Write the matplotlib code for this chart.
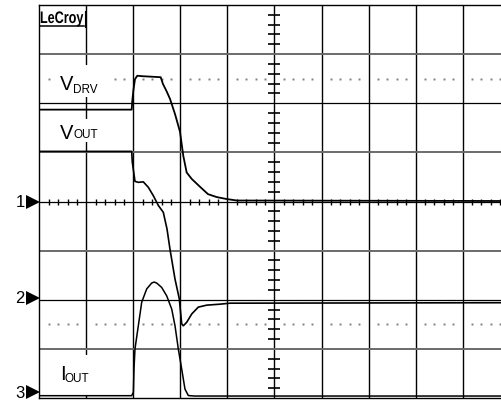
import numpy as np
import matplotlib
matplotlib.use("Agg")
import matplotlib.pyplot as plt
from matplotlib import transforms
from matplotlib.patches import Rectangle, PathPatch
from matplotlib.textpath import TextPath
from matplotlib.font_manager import FontProperties

plt.rcParams['font.family'] = ['Liberation Sans', 'DejaVu Sans']

# scope traces, time and level both in screen divisions (10 x 8 grid)
vdrv_t = [0, 1.964, 1.977, 2.0, 2.034, 2.083, 2.2, 2.4, 2.581, 2.630, 2.708, 2.778,
          2.885, 2.991, 3.061, 3.133, 3.240, 3.416, 3.586, 3.771, 3.984, 4.2, 10]
vdrv_v = [5.87, 5.87, 6.05, 6.26, 6.49, 6.56, 6.55, 6.54, 6.53, 6.39, 6.24, 6.09,
          5.78, 5.42, 4.93, 4.59, 4.46, 4.30, 4.15, 4.09, 4.05, 4.02, 4.01]

vout_t = [0, 1.964, 1.977, 2.034, 2.105, 2.211, 2.317, 2.423, 2.530, 2.636, 2.715,
          2.778, 2.885, 2.976, 3.027, 3.061, 3.133, 3.240, 3.380, 3.559, 3.841, 4.054, 10]
vout_v = [5.02, 5.02, 4.80, 4.41, 4.39, 4.40, 4.29, 4.12, 3.92, 3.78, 3.44,
          3.03, 2.42, 2.02, 1.51, 1.47, 1.54, 1.71, 1.85, 1.89, 1.91, 1.93, 1.94]

iout_t = [0, 1.964, 2.0, 2.013, 2.034, 2.105, 2.177, 2.283, 2.389, 2.44, 2.496, 2.602,
          2.708, 2.815, 2.885, 2.955, 3.027, 3.097, 3.168, 3.3, 10]
iout_v = [0.047, 0.047, 0.12, 0.59, 1.00, 1.47, 1.95, 2.22, 2.34, 2.36, 2.34, 2.25,
          2.08, 1.81, 1.47, 1.00, 0.59, 0.18, 0.05, 0.04, 0.04]

ch_labels = ['1', '2', '3']
ch_levels = [4.0, 2.04, 0.12]

fig = plt.figure(figsize=(5.01, 4.02), dpi=100)
ax = fig.add_axes([39.3 / 501, 3 / 402, 470.4 / 501, 393 / 402])
ax.set_xlim(0, 10)
ax.set_ylim(0, 8)
ax.set_xticks([])
ax.set_yticks([])
for s in ['left', 'top', 'bottom']:
    ax.spines[s].set_color('black')
    ax.spines[s].set_linewidth(1.0)
ax.spines['right'].set_visible(False)

# grid
for x in range(1, 10):
    ax.axvline(x, color='black', lw=1.0, zorder=1)
for y in range(1, 8):
    if y % 2 == 0:
        ax.axhline(y, color='black', lw=0.9, zorder=1)
    else:
        ax.axhline(y, color='#6a6a6a', lw=1.4, zorder=1)

minor = np.arange(0, 10.01, 0.2)
minor_x = minor[np.abs(minor - np.round(minor)) > 1e-6]
ax.plot(minor_x, np.full(len(minor_x), 4.0), ls='none', marker='|', ms=5,
        mew=1.0, color='black', zorder=1.2)
minor_y = np.arange(0, 8.01, 0.2)
minor_y = minor_y[np.abs(minor_y - np.round(minor_y)) > 1e-6]
ax.plot(np.full(len(minor_y), 5.0), minor_y, ls='none', marker='_', ms=8,
        mew=1.2, color='black', zorder=1.2)

for y in [6.5, 1.5]:
    ax.plot(minor_x, np.full(len(minor_x), y), ls='none', marker='s', ms=1.4,
            mew=0, color='#808080', zorder=1.1)

# label boxes
for (x0, y0, w, h) in [(0.27, 6.13, 1.19, 0.65), (0.27, 5.21, 1.11, 0.47),
                       (0.27, 0.05, 1.02, 0.83)]:
    ax.add_patch(Rectangle((x0, y0), w, h, facecolor='white', edgecolor='none',
                           zorder=2.5))

ax.text(0.44, 6.29, 'V', fontsize=14.5, ha='left', va='baseline', zorder=4)
ax.text(0.72, 6.22, 'DRV', fontsize=8.5, ha='left', va='baseline', zorder=4)
ax.text(0.44, 5.30, 'V', fontsize=14.5, ha='left', va='baseline', zorder=4)
ax.text(0.72, 5.31, 'OUT', fontsize=8.5, ha='left', va='baseline', zorder=4)
ax.text(0.44, 0.39, 'I', fontsize=14.5, ha='left', va='baseline', zorder=4)
ax.text(0.535, 0.35, 'OUT', fontsize=8.5, ha='left', va='baseline', zorder=4)

# traces
ax.plot(vdrv_t, vdrv_v, color='black', lw=1.3, zorder=3, solid_joinstyle='round')
ax.plot(vout_t, vout_v, color='black', lw=1.2, zorder=3, solid_joinstyle='round')
ax.plot(iout_t, iout_v, color='black', lw=1.1, zorder=3, solid_joinstyle='round')

# logo: condensed bold text, drawn as a path squeezed to fit its box (pixels)
prop = FontProperties(family='Liberation Sans', weight='bold')
logo = TextPath((0, 0), 'LeCroy', size=1, prop=prop)
cap = TextPath((0, 0), 'L', size=1, prop=prop).get_extents()
ext = logo.get_extents()
sx = 42.5 / ext.width
sy = 11.5 / cap.height
logo_tr = transforms.Affine2D().translate(-ext.x0, 0).scale(sx, sy).translate(40.8, 402 - 24)
fig.add_artist(PathPatch(logo, transform=logo_tr, facecolor='black', edgecolor='none'))
ax.plot([0.02, 0.95], [7.575, 7.575], color='black', lw=1.1, zorder=4)
ax.plot([0.98, 0.98], [7.55, 7.88], color='black', lw=0.8, zorder=4)

# channel markers
tri_tr = transforms.offset_copy(ax.get_yaxis_transform(), fig=fig, x=-6.5, units='dots')
num_tr = transforms.offset_copy(ax.get_yaxis_transform(), fig=fig, x=-14.5, units='dots')
for lab, lev in zip(ch_labels, ch_levels):
    ax.plot([0], [lev], marker='>', ms=9.4, color='black', transform=tri_tr,
            clip_on=False, mew=0)
    ax.text(0, lev, lab, fontsize=12, ha='right', va='center', transform=num_tr)

fig.savefig('out.png', dpi=100)
